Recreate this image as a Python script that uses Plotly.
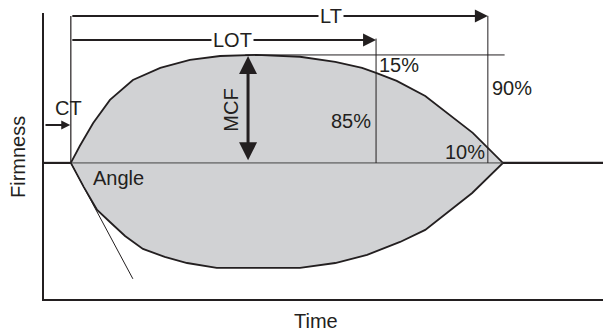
import plotly.graph_objects as go

# Thromboelastometry trace: firmness amplitude over time (arbitrary units)
upper_t = [4.8, 6.4, 8.8, 11.8, 15.9, 20.8, 26.1, 31.5, 38.0, 45.8, 52.1, 56.9,
           59.4, 63.1, 68.2, 76.7, 82.1]
upper_a = [0, 9.4, 22.2, 35.0, 46.1, 52.8, 57.2, 59.4, 60.0, 59.0, 56.1, 52.8,
           50.0, 45.6, 37.2, 16.7, 0]
lower_t = [4.8, 7.1, 9.5, 11.8, 14.5, 17.7, 21.6, 25.6, 30.9, 45.8, 52.1, 57.8,
           63.7, 68.2, 76.6, 82.1]
lower_a = [0, -13.3, -26.1, -32.8, -40.6, -47.8, -52.2, -55.6, -58.3, -58.3,
           -55.6, -51.1, -43.9, -37.2, -16.7, 0]

ct = 4.8            # clotting time
lot = 59.4          # lysis onset time
lt = 79.4           # lysis time
mcf = 60.0          # maximum clot firmness
lysis_end = 82.1
t_max = 100.0
angle_end = (15.9, -64.4)   # tangent from CT

lt_level = 81.7
lot_level = 68.3
ct_arrow_level = 21.1
mcf_arrow_t = 36.5
mcf_line_start = 36.0

labels = [
    ("LT", 51.3, 81.7),
    ("LOT", 33.8, 68.3),
    ("CT", 4.4, 30.6),
    ("Angle", 13.4, -8.3),
    ("15%", 63.5, 54.2),
    ("90%", 83.7, 41.7),
    ("85%", 54.9, 23.3),
    ("10%", 75.3, 5.8),
]

INK = "#231f20"
FILL = "#d1d2d4"
FONT = dict(family="Liberation Sans, Arial, sans-serif", size=20, color=INK)

fig = go.Figure()

# clot envelope
fig.add_trace(go.Scatter(
    x=upper_t + lower_t[::-1], y=upper_a + lower_a[::-1],
    mode="lines", fill="toself", fillcolor=FILL,
    line=dict(color=INK, width=1.8), hoverinfo="skip"))

def seg(xs, ys, width, color=INK):
    fig.add_trace(go.Scatter(x=xs, y=ys, mode="lines",
                             line=dict(color=color, width=width),
                             hoverinfo="skip"))

# baseline
seg([0, ct], [0, 0], 2.2)
seg([ct, lysis_end], [0, 0], 1.0, "#444")
seg([lysis_end, t_max], [0, 0], 2.2)

# alpha-angle tangent
seg([ct, angle_end[0]], [0, angle_end[1]], 1.0)

# reference verticals and MCF level
seg([ct, ct], [0, lt_level], 1.2)
seg([lot, lot], [0, lot_level + 0.8], 1.0)
seg([lt, lt], [0, lt_level], 1.0)
seg([mcf_line_start, lysis_end + 0.3], [mcf, mcf], 1.0)

# time spans with arrowheads
def arrow(x0, y0, x1, y1, width, size, both=False):
    fig.add_annotation(x=x1, y=y1, ax=x0, ay=y0, xref="x", yref="y",
                       axref="x", ayref="y", text="", showarrow=True,
                       arrowhead=2, arrowwidth=width, arrowsize=size,
                       arrowcolor=INK,
                       arrowside="end+start" if both else "end")

arrow(ct, lt_level, lt, lt_level, 2.0, 1.3)
arrow(ct, lot_level, lot, lot_level, 2.0, 1.3)
arrow(0, ct_arrow_level, ct - 0.1, ct_arrow_level, 2.0, 0.9)
arrow(mcf_arrow_t, 0.6, mcf_arrow_t, mcf - 0.6, 3.0, 1.2, both=True)

for text, x, y in labels:
    bg = "white" if text in ("LT", "LOT") else None
    fig.add_annotation(x=x, y=y, xref="x", yref="y", text=text,
                       xanchor="center", yanchor="middle",
                       showarrow=False, font=FONT, bgcolor=bg, borderpad=1)

fig.add_annotation(x=33.4, y=29.4, xref="x", yref="y", text="MCF",
                   textangle=-90, xanchor="center", yanchor="middle",
                   showarrow=False, font=FONT)

# axis titles
fig.add_annotation(x=-0.0465, y=3.3, xref="paper", yref="y", text="Firmness",
                   textangle=-90, xanchor="center", yanchor="middle",
                   showarrow=False, font=FONT)
fig.add_annotation(x=0.4866, y=-0.077, xref="paper", yref="paper", text="Time",
                   xanchor="center", yanchor="middle",
                   showarrow=False, font=FONT)

fig.update_layout(
    width=603, height=331, margin=dict(l=44, r=0, t=13, b=32),
    plot_bgcolor="white", paper_bgcolor="white", showlegend=False,
    xaxis=dict(range=[0, t_max], showline=True, linecolor=INK, linewidth=1.5,
               showgrid=False, zeroline=False, showticklabels=False,
               ticks=""),
    yaxis=dict(range=[-75.6, 83.3], showline=True, linecolor=INK,
               linewidth=1.5, showgrid=False, zeroline=False,
               showticklabels=False, ticks=""),
)

fig.write_html("out.html")
